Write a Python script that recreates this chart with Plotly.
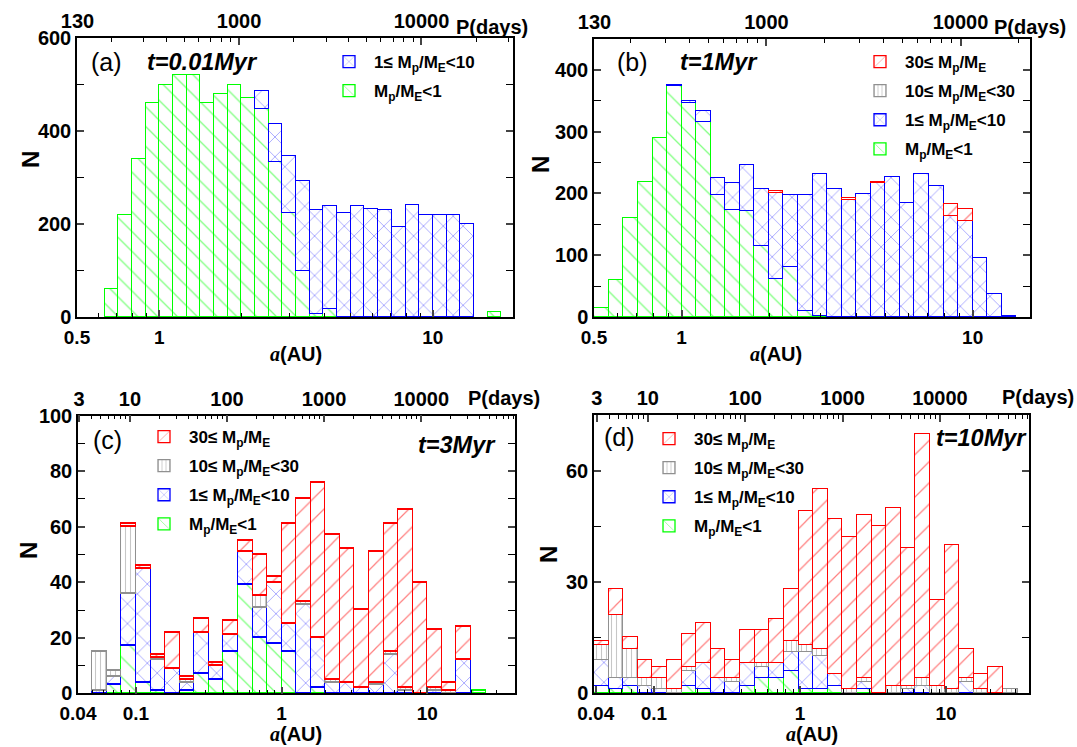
import numpy as np
import plotly.graph_objects as go

W, H = 1077, 747

# ---------------- data ----------------
# histogram grids: log10 of lower edge of first bin, bin width (dex)
a_log_start, a_log_step = -0.20, 0.05
b_log_start, b_log_step = -0.30, 0.05
c_log_start, c_log_step = -1.30, 0.10
d_log_start, d_log_step = -1.41, 0.10

# panel (a) t=0.01 Myr
a_green = [60, 220, 340, 460, 500, 520, 520, 460, 480, 500, 470, 447, 334, 223, 99, 7, 18,
           0, 0, 0, 0, 0, 0, 0, 0, 0, 0, 0, 11]
a_blue = [0, 0, 0, 0, 0, 0, 0, 0, 0, 0, 0, 40, 80, 123, 193, 223, 220, 223, 238, 233, 230,
          194, 241, 219, 219, 219, 199, 0, 0]

# panel (b) t=1 Myr
b_green = [14, 60, 160, 218, 290, 374, 347, 316, 198, 173, 172, 115, 61, 81, 10, 1,
           0, 0, 0, 0, 0, 0, 0, 0, 0, 0, 0, 0, 0]
b_blue = [0, 0, 0, 0, 0, 2, 2, 18, 27, 44, 74, 93, 140, 117, 187, 230, 208, 190, 199, 217,
          227, 184, 231, 212, 163, 156, 96, 38, 1]
b_gray = [0] * 29
b_red = [0, 0, 0, 0, 0, 0, 0, 0, 0, 0, 0, 0, 3, 0, 0, 0, 0, 2, 0, 2, 0, 0, 0, 0, 20, 19, 0, 0, 0]

# panel (c) t=3 Myr
c_green = [0, 3, 17, 4, 1, 0, 1, 7, 5, 15, 39, 20, 18, 15, 0, 2, 0, 0, 0, 0, 0, 0, 0, 0, 0, 0, 1]
c_blue = [1, 3, 19, 41, 11, 9, 3, 15, 5, 6, 12, 11, 22, 10, 32, 18, 4, 4, 2, 3, 14, 1, 0, 1, 0, 12, 0]
c_gray = [14, 2, 24, 0, 1, 0, 1, 0, 0, 0, 0, 4, 0, 0, 1, 0, 1, 0, 0, 1, 1, 1, 0, 1, 1, 0, 0]
c_red = [0, 0, 1, 1, 1, 13, 1, 5, 1, 5, 4, 15, 2, 36, 37, 56, 52, 48, 28, 47, 46, 64, 40, 21, 3, 12, 0]

# panel (d) t=10 Myr
d_green = [2, 1, 2, 0, 0, 0, 2, 1, 0, 0, 2, 4, 4, 6, 1, 1, 2, 0, 1, 0, 0, 0, 0, 0, 0, 0, 0, 0, 0]
d_blue = [7, 3, 2, 2, 1, 0, 4, 7, 4, 3, 6, 3, 4, 5, 10, 9, 3, 0, 2, 0, 0, 1, 2, 0, 0, 3, 0, 0, 0]
d_gray = [4, 17, 8, 2, 3, 1, 1, 0, 0, 1, 0, 1, 0, 3, 2, 2, 0, 1, 1, 0, 2, 1, 2, 2, 1, 1, 1, 0, 1]
d_red = [1, 7, 3, 5, 3, 8, 9, 11, 8, 5, 9, 9, 12, 14, 36, 43, 42, 41, 44, 45, 48, 37, 66, 23, 39,
         8, 4, 7, 0]

# tick labels
a_ticks_ab = [0.5, 1, 10]
a_ticks_cd = [0.04, 0.1, 1, 10]
p_ticks_ab = [130, 1000, 10000]
p_ticks_cd = [3, 10, 100, 1000, 10000]

panel_labels = ["(a)", "(b)", "(c)", "(d)"]
time_labels = ["t=0.01Myr", "t=1Myr", "t=3Myr", "t=10Myr"]

# ---------------- styling ----------------
FONT = "Liberation Sans, Arial, sans-serif"
STY = {
    "green": dict(col="#00FF00", shape="\\", size=14, sol=0.09, rank=4,
                  name="M<sub>p</sub>/M<sub>E</sub>&lt;1"),
    "blue": dict(col="#0000FF", shape="x", size=14, sol=0.09, rank=3,
                 name="1\u2264 M<sub>p</sub>/M<sub>E</sub>&lt;10"),
    "gray": dict(col="#909090", shape="|", size=5, sol=0.22, rank=2,
                 name="10\u2264 M<sub>p</sub>/M<sub>E</sub>&lt;30"),
    "red": dict(col="#FF0000", shape="/", size=15, sol=0.08, rank=1,
                name="30\u2264 M<sub>p</sub>/M<sub>E</sub>"),
}


def px(x):
    return x / W


def py(y):
    return 1 - y / H


def bins(start, step, n):
    k = np.arange(n)
    lo = 10 ** (start + step * k)
    hi = 10 ** (start + step * (k + 1))
    return (lo + hi) / 2, hi - lo


def a_of_P(P):
    return (np.asarray(P, dtype=float) / 365.25) ** (2.0 / 3.0)


fig = go.Figure()

panels = [
    dict(i=1, start=a_log_start, step=a_log_step,
         series=[("green", a_green), ("blue", a_blue)],
         xdom=[px(77), px(513)], ydom=[py(317), py(38)],
         xr=[np.log10(0.5), 1.293], yr=[0, 600], dtick=200, mdtick=100,
         xt=a_ticks_ab, pt=p_ticks_ab),
    dict(i=2, start=b_log_start, step=b_log_step,
         series=[("green", b_green), ("blue", b_blue), ("gray", b_gray), ("red", b_red)],
         xdom=[px(594), px(1030)], ydom=[py(317), py(39)],
         xr=[np.log10(0.5), 1.197], yr=[0, 450], dtick=100, mdtick=50,
         xt=a_ticks_ab, pt=p_ticks_ab),
    dict(i=3, start=c_log_start, step=c_log_step,
         series=[("green", c_green), ("blue", c_blue), ("gray", c_gray), ("red", c_red)],
         xdom=[px(78), px(515)], ydom=[py(693.3), py(415.7)],
         xr=[np.log10(0.04), np.log10(40)], yr=[0, 100], dtick=20, mdtick=10,
         xt=a_ticks_cd, pt=p_ticks_cd),
    dict(i=4, start=d_log_start, step=d_log_step,
         series=[("green", d_green), ("blue", d_blue), ("gray", d_gray), ("red", d_red)],
         xdom=[px(594), px(1029)], ydom=[py(693), py(415)],
         xr=[-1.41, 1.568], yr=[0, 75], dtick=30, mdtick=15,
         xt=a_ticks_cd, pt=p_ticks_cd),
]

legend_pos = {1: (324, 44), 2: (855, 44), 3: (139, 419), 4: (644, 421)}

TICKFONT = dict(family=FONT, size=20, color="black", weight="bold")
BOTTOMFONT = dict(family=FONT, size=19, color="black", weight="bold")


def minor_vals(lo, hi):
    out = []
    for dec in range(-3, 6):
        for m in range(2, 10):
            v = m * 10.0 ** dec
            if lo < v < hi:
                out.append(v)
    return out


layout = dict(width=W, height=H, margin=dict(l=0, r=0, t=0, b=0, autoexpand=False),
              paper_bgcolor="white", plot_bgcolor="white",
              barmode="stack", bargap=0, showlegend=True,
              font=dict(family=FONT, color="black"))
annotations = []

for p in panels:
    i = p["i"]
    xs = "" if i == 1 else str(i)
    xname, yname = "x" + xs, "y" + xs
    top = 4 + i
    lg = "legend" if i == 1 else "legend%d" % i
    n = len(p["series"][0][1])
    centers, widths = bins(p["start"], p["step"], n)
    for key, vals in p["series"]:
        s = STY[key]
        fig.add_trace(go.Bar(
            x=centers, y=[v if v else None for v in vals], width=widths,
            xaxis=xname, yaxis=yname, name=s["name"], legend=lg,
            legendgroup="%d_%s" % (i, key), legendrank=s["rank"],
            marker=dict(color="white",
                        line=dict(color=s["col"], width=1.3),
                        pattern=dict(shape=s["shape"], fgcolor=s["col"], bgcolor="white",
                                     size=s["size"], solidity=s["sol"])),
        ))
    # empty trace on the top (orbital period) axis
    fig.add_trace(go.Scatter(x=[], y=[], xaxis="x%d" % top, yaxis=yname,
                             showlegend=False, hoverinfo="skip"))

    lo, hi = 10 ** p["xr"][0], 10 ** p["xr"][1]
    layout["xaxis" + xs] = dict(
        type="log", domain=p["xdom"], range=p["xr"], anchor=yname,
        tickmode="array", tickvals=p["xt"], ticktext=[str(v) for v in p["xt"]],
        ticks="inside", ticklen=7, tickwidth=1.5, showline=True, linecolor="black",
        linewidth=1.5, showgrid=False, zeroline=False, tickfont=BOTTOMFONT,
        ticklabelstandoff=2,
        minor=dict(tickmode="array", tickvals=minor_vals(lo, hi), ticks="inside",
                   ticklen=4, tickwidth=1, tickcolor="black", showgrid=False))
    Pmin = 365.25 * lo ** 1.5
    Pmax = 365.25 * hi ** 1.5
    pminor = [v for v in minor_vals(Pmin, Pmax) if v not in p["pt"]]
    layout["xaxis%d" % top] = dict(
        type="log", overlaying=xname, side="top", anchor=yname, domain=p["xdom"],
        range=p["xr"], tickmode="array", tickvals=list(a_of_P(p["pt"])),
        ticktext=[str(v) for v in p["pt"]], ticks="inside", ticklen=7, tickwidth=1.5,
        showline=True, linecolor="black", linewidth=1.5, showgrid=False, zeroline=False,
        tickfont=TICKFONT,
        minor=dict(tickmode="array", tickvals=list(a_of_P(pminor)), ticks="inside",
                   ticklen=4, tickwidth=1, tickcolor="black", showgrid=False))
    layout["yaxis" + xs] = dict(
        domain=p["ydom"], range=p["yr"], anchor=xname, tick0=0, dtick=p["dtick"],
        ticks="inside", ticklen=7, tickwidth=1.5, showline=True, linecolor="black",
        linewidth=1.5, mirror="allticks", showgrid=False, zeroline=False,
        tickfont=TICKFONT,
        minor=dict(tick0=0, dtick=p["mdtick"], ticks="inside", ticklen=4, tickwidth=1,
                   tickcolor="black", showgrid=False))
    lx, ly = legend_pos[i]
    layout[lg] = dict(x=px(lx), y=py(ly), xanchor="left", yanchor="top",
                      xref="paper", yref="paper", traceorder="grouped",
                      bgcolor="rgba(0,0,0,0)", borderwidth=0, itemwidth=40,
                      font=dict(family=FONT, size=17, color="black", weight="bold"),
                      tracegroupgap=4)

# text annotations
pos_label = {1: (89, 62), 2: (615, 62), 3: (91, 440), 4: (602, 437)}
pos_time = {1: (145, 62), 2: (678, 62), 3: (416, 445), 4: (934, 438)}
pos_N = {1: (30, 160), 2: (541, 165), 3: (28, 550), 4: (548, 555)}
pos_xt = {1: (296, 354), 2: (776, 354), 3: (296, 734), 4: (812, 734)}
pos_P = {1: (454, 27), 2: (992, 27), 3: (466, 398), 4: (1000, 397)}

A_ITALIC = "<span style=\"font-family:'Liberation Serif', 'Times New Roman', serif\"><i>a</i></span>"

for i in range(1, 5):
    x, y = pos_label[i]
    annotations.append(dict(text=panel_labels[i - 1], x=px(x), y=py(y), xref="paper",
                            yref="paper", xanchor="left", yanchor="middle", showarrow=False,
                            font=dict(family=FONT, size=25, color="black")))
    x, y = pos_time[i]
    annotations.append(dict(text="<b><i>" + time_labels[i - 1] + "</i></b>", x=px(x), y=py(y),
                            xref="paper", yref="paper", xanchor="left", yanchor="middle",
                            showarrow=False, font=dict(family=FONT, size=23.5, color="black")))
    x, y = pos_N[i]
    annotations.append(dict(text="<b>N</b>", x=px(x), y=py(y), xref="paper", yref="paper",
                            xanchor="center", yanchor="middle", showarrow=False,
                            textangle=-90, font=dict(family=FONT, size=24, color="black")))
    x, y = pos_xt[i]
    annotations.append(dict(text="<b>" + A_ITALIC + "(AU)</b>", x=px(x), y=py(y),
                            xref="paper", yref="paper", xanchor="center", yanchor="middle",
                            showarrow=False, font=dict(family=FONT, size=20, color="black")))
    x, y = pos_P[i]
    annotations.append(dict(text="<b>P(days)</b>", x=px(x), y=py(y), xref="paper",
                            yref="paper", xanchor="left", yanchor="middle", showarrow=False,
                            font=dict(family=FONT, size=20, color="black")))

layout["annotations"] = annotations
fig.update_layout(**layout)
fig.write_html("out.html")
